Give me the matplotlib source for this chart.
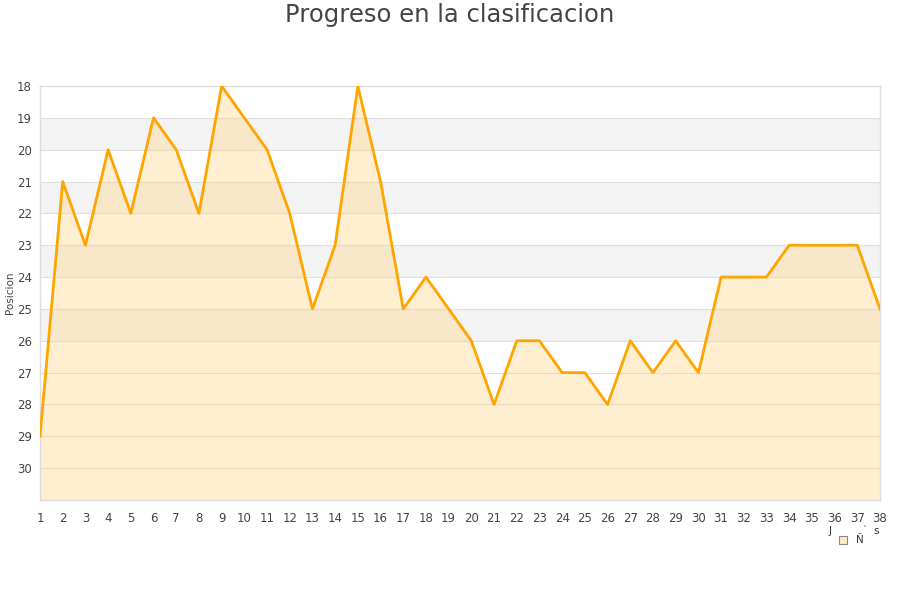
import matplotlib
matplotlib.use("Agg")
import matplotlib.pyplot as plt
from matplotlib.patches import Rectangle

jornadas = list(range(1, 39))
posiciones = [29, 21, 23, 20, 22, 19, 20, 22, 18, 19, 20, 22, 25, 23, 18, 21, 25, 24, 25, 26,
              28, 26, 26, 27, 27, 28, 26, 27, 26, 27, 24, 24, 24, 23, 23, 23, 23, 25]
ytick_vals = list(range(18, 31))
title = "Progreso en la clasificacion"
ylabel = "Posicion"

fig = plt.figure(figsize=(9, 6), dpi=100)
ax = fig.add_axes([40/900, 1-500/600, 840/900, 414/600])

ymin, ymax = 18, 31
ax.set_xlim(1, 38)
ax.set_ylim(ymax, ymin)

# alternating bands
for y0 in range(19, 27, 2):
    ax.axhspan(y0, y0 + 1, color="#f3f3f3", zorder=0, lw=0)
for y in range(19, 31):
    ax.axhline(y, color="#e0e0e0", lw=0.8, zorder=1)

ax.fill_between(jornadas, posiciones, ymax, color="#ffd890", alpha=0.42, lw=0, zorder=2)
ax.plot(jornadas, posiciones, color="#ffa500", lw=2.0, zorder=3)

ax.set_yticks(ytick_vals)
ax.set_yticklabels([str(v) for v in ytick_vals])
ax.set_xticks(jornadas)
ax.set_xticklabels([str(v) for v in jornadas])
ax.tick_params(axis="both", length=0, labelsize=8.5, labelcolor="#444444")
ax.tick_params(axis="y", pad=6)
ax.tick_params(axis="x", pad=9)
for s in ax.spines.values():
    s.set_color("#dddddd")
    s.set_linewidth(1)

fig.text(10/900, 1-293/600, ylabel, fontsize=7.5, color="#444444", rotation=90,
         ha="center", va="center")

fig.text(0.5, 1-15/600, title, ha="center", va="center", fontsize=17.5, color="#444444")

# legend-like marks
fig.patches.append(Rectangle((839/900, 1-544/600), 8/900, 8/600, transform=fig.transFigure,
                             facecolor="#ffe9bf", edgecolor="#888888", lw=0.8))
fig.text(830/900, 1-531/600, "J", fontsize=7.5, color="#333333", ha="center", va="center")
fig.text(860/900, 1-540/600, "Ñ", fontsize=7.5, color="#333333", ha="center", va="center")
fig.text(864/900, 1-527/600, "'", fontsize=5, color="#333333", ha="center", va="center")
fig.text(876/900, 1-531/600, "s", fontsize=7.5, color="#333333", ha="center", va="center")

fig.savefig("out.png", dpi=100)
